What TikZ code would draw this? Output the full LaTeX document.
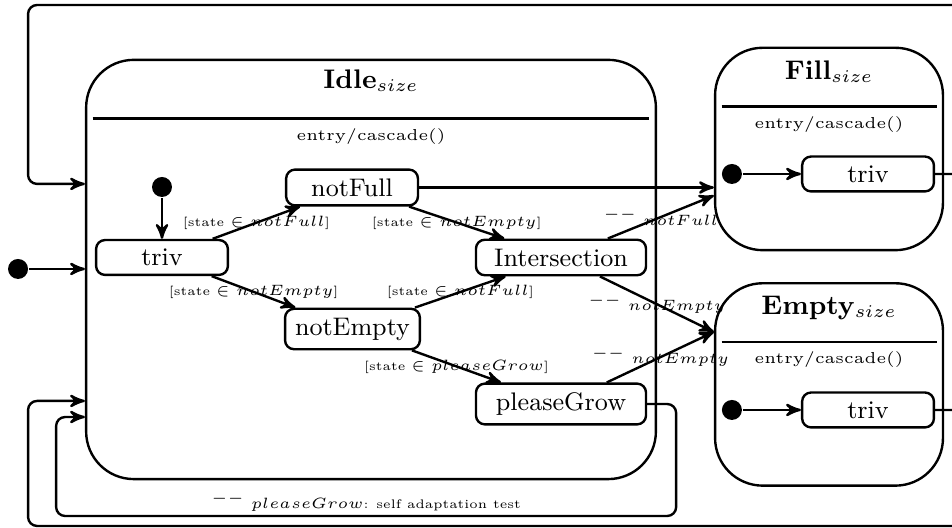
\documentclass[tikz,border=0pt]{standalone}
\usetikzlibrary{arrows,positioning}

\begin{document}
\begin{tikzpicture}[>=stealth',thick,
		state/.style={rectangle,rounded corners=3pt,draw,font=\fontsize{8.5}{10}\selectfont,minimum width=1.55cm,inner ysep=3pt},
		superstate/.style={rectangle,rounded corners=0.56cm,draw,minimum width=2.68cm,minimum height=2.38cm},
		init dot/.style={circle,fill,inner sep=0pt,minimum size=0.235cm},
		title/.style={font=\small},
		entry/.style={font=\fontsize{5.3}{6}\selectfont},
		guard/.style={font=\fontsize{4.15}{5}\selectfont}]
		
		\clip (0,0) rectangle (11.195,6.209);
		
		% Idle
		\node[superstate,minimum width=6.70cm,minimum height=4.93cm] (Idle) at (4.363,3.040) {};
		\node[title] (idleTitle) [below=0pt of Idle.north] {\textbf{Idle}$_{size}$};
		\draw ([shift={(0.09,-0.706)}]Idle.north west) -- ([shift={(-0.09,-0.706)}]Idle.north east);
		\node[entry] (idleEntry) [below=0.69cm of Idle.north] {entry/cascade()};
		
		\node[init dot] (idleInit) at (1.905,4.010) {};
		\node[state] (triv) at (1.905,3.181) {triv};
		\node[state] (notFull) at (4.140,4.004) {notFull};
		\node[state] (notEmpty) at (4.145,2.340) {notEmpty};
		\node[state,minimum width=2cm] (inter) at (6.597,3.181) {Intersection};
		\node[state,minimum width=2cm] (pleaseGrow) at (6.597,1.458) {pleaseGrow};
		
		% Fill
		\node[superstate] (Fill) at (9.749,4.457) {};
		\node[title] (fillTitle) [below=1pt of Fill.north] {\textbf{Fill}$_{size}$};
		\draw ([shift={(0.09,-0.706)}]Fill.north west) -- ([shift={(-0.09,-0.706)}]Fill.north east);
		\node[entry] (fillEntry) [below=0.69cm of Fill.north] {entry/cascade()};
		\node[init dot] (fillInit) at ([xshift=0.212cm,yshift=-0.294cm]Fill.west) {};
		\node[state] (fillTriv) [right=0.68cm of fillInit] {triv};
		
		% Empty
		\node[superstate] (Empty) at (9.749,1.688) {};
		\node[title] (emptyTitle) [below=1pt of Empty.north] {\textbf{Empty}$_{size}$};
		\draw ([shift={(0.09,-0.706)}]Empty.north west) -- ([shift={(-0.09,-0.706)}]Empty.north east);
		\node[entry] (emptyEntry) [below=0.69cm of Empty.north] {entry/cascade()};
		\node[init dot] (emptyInit) at ([xshift=0.212cm,yshift=-0.30cm]Empty.west) {};
		\node[state] (emptyTriv) [right=0.68cm of emptyInit] {triv};
		\coordinate (emptyIn) at ([yshift=0.617cm]Empty.west);
		
		\node[init dot] (outerInit) at (0.212,3.046) {};
		
		\path[->,every node/.style={guard}]
		(idleInit) edge (triv)
		(triv) edge node {[state $\in notFull$]} (notFull)
		(triv) edge node {[state $\in notEmpty$]} (notEmpty)
		(notFull) edge node {[state $\in notEmpty$]} (inter)
		(notEmpty) edge node {[state $\in notFull$]} (inter)
		(notEmpty) edge node {[state $\in pleaseGrow$]} (pleaseGrow)
		(notFull.east) edge (notFull.east -| Fill.west)
		(inter) edge node {$^{--}$ $notFull$} (Fill)
		(inter) edge node {$^{--}$ $notEmpty$} (emptyIn)
		(pleaseGrow) edge node {$^{--}$ $notEmpty$} (emptyIn)
		(fillInit) edge (fillTriv)
		(emptyInit) edge (emptyTriv)
		(outerInit) edge (outerInit -| Idle.west);
		
		% loops back to Idle
		\draw[->,rounded corners=3pt] (fillTriv.east) -- ++(0.4,0) |- (0.33,6.15) |- ([yshift=1.006cm]Idle.west);
		\draw[->,rounded corners=3pt] (emptyTriv.east) -- ++(0.4,0) |- (0.33,0.024) |- ([yshift=-1.546cm]Idle.west);
		\draw[->,rounded corners=3pt] (pleaseGrow.east) -- ++(0.34,0) |- node[guard,above,inner sep=1pt,pos=0.75] {$^{--}$ $pleaseGrow$: self adaptation test} (0.66,0.141) |- ([yshift=-1.735cm]Idle.west);
\end{tikzpicture}
\end{document}
